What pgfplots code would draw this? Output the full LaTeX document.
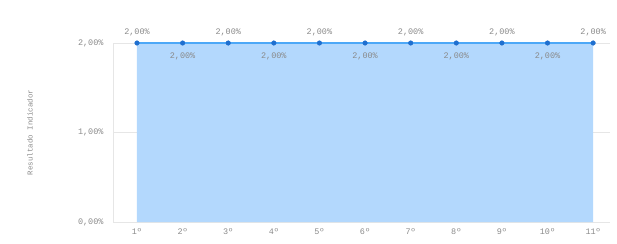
\documentclass[border=0pt]{standalone}
\usepackage{fontspec}
\setmainfont{Liberation Mono}
\usepackage{pgfplots}
\pgfplotsset{compat=1.18}
\definecolor{areafill}{HTML}{B3D8FD}
\definecolor{linec}{HTML}{4DA8F7}
\definecolor{markc}{HTML}{1F6FCF}
\definecolor{txt}{HTML}{8A8A8A}
\definecolor{gridc}{HTML}{E6E6E6}
\begin{document}
\begin{tikzpicture}[x=1bp,y=1bp]
\useasboundingbox (0,0) rectangle (617,243);
\begin{axis}[
  at={(113bp,21bp)}, anchor=south west,
  scale only axis, width=497bp, height=179bp,
  xmin=0.474, xmax=11.37, ymin=0, ymax=2,
  axis x line*=bottom, axis y line*=left,
  x axis line style={draw=gridc},
  y axis line style={draw=gridc},
  xtick={1,...,11},
  xticklabels={1º,2º,3º,4º,5º,6º,7º,8º,9º,10º,11º},
  ytick={0,1,2},
  yticklabels={{0,00\%},{1,00\%},{2,00\%}},
  ymajorgrids, grid style={draw=gridc, line width=0.6pt},
  major tick length=0pt,
  tick style={draw=none},
  ticklabel style={font=\fontsize{8.5}{10}\selectfont, text=txt},
  xticklabel style={yshift=-3bp},
  yticklabel style={xshift=-6bp},
  every axis y label/.style={at={(rel axis cs:0,0.5)}, rotate=90, anchor=center, yshift=83bp},
  ylabel={Resultado Indicador},
  ylabel style={font=\fontsize{7.5}{9}\selectfont, text=txt},
  clip=false,
]
\addplot[draw=none, fill=areafill, mark=none] coordinates {
(1,0) (1,2) (2,2) (3,2) (4,2) (5,2) (6,2) (7,2) (8,2) (9,2) (10,2) (11,2) (11,0)} -- cycle;
\addplot[draw=linec, line width=1.3pt, mark=none] coordinates {
(1,2) (2,2) (3,2) (4,2) (5,2) (6,2) (7,2) (8,2) (9,2) (10,2) (11,2)};
\addplot[only marks, mark=*, mark size=2.3bp, color=markc,
  nodes near coords={2,00\%},
  every node near coord/.append style={font=\fontsize{8.5}{10}\selectfont, text=txt, anchor=south, yshift=3bp}]
  coordinates {(1,2) (3,2) (5,2) (7,2) (9,2) (11,2)};
\addplot[only marks, mark=*, mark size=2.3bp, color=markc,
  nodes near coords={2,00\%},
  every node near coord/.append style={font=\fontsize{8.5}{10}\selectfont, text=txt, anchor=north, yshift=-6bp}]
  coordinates {(2,2) (4,2) (6,2) (8,2) (10,2)};
\end{axis}
\end{tikzpicture}
\end{document}
